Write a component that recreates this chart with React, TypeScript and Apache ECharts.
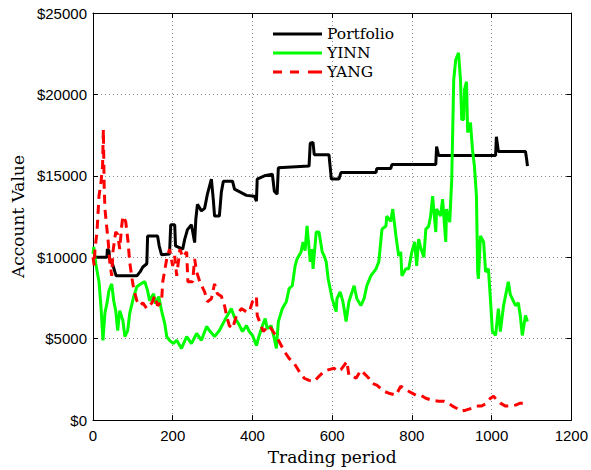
import React, { useEffect, useRef } from "react";
import * as echarts from "echarts";

const xTicks = { min: 0, max: 1200, interval: 200 };
const yTicks = { min: 0, max: 25000, interval: 5000 };
const seriesNames = ["Portfolio", "YINN", "YANG"];

const portfolio: [number, number][] = [
  [0, 10000], [35, 10000], [36, 10500], [40, 10400], [42, 9900], [50, 9500], [58, 8860],
  [110, 8860], [118, 9100], [125, 9400], [135, 9600], [137, 11300], [162, 11300],
  [166, 10700], [172, 10150], [192, 10200], [195, 12000], [205, 12000], [207, 10700],
  [225, 10500], [230, 11100], [237, 11700], [247, 12000], [255, 10900], [258, 12350],
  [262, 13250], [272, 12850], [280, 13000], [287, 13870], [297, 14800], [302, 13500],
  [305, 12530], [317, 12530], [322, 14000], [327, 14670], [350, 14670], [355, 14180],
  [385, 13800], [405, 13750], [410, 13450], [412, 14800], [430, 15000], [450, 15100],
  [455, 14050], [462, 13870], [465, 15500], [542, 15600], [545, 17000], [552, 17050],
  [555, 16300], [592, 16300], [598, 14800], [617, 14800], [622, 15200], [710, 15200],
  [712, 15450], [747, 15450], [750, 15700], [860, 15700], [862, 16800], [867, 16250],
  [1010, 16250], [1012, 17400], [1017, 16500], [1085, 16500], [1088, 16000], [1090, 15600],
];

const yinn: [number, number][] = [
  [0, 10200], [2, 10630], [7, 9600], [15, 8500], [20, 6970], [25, 4900], [30, 6600],
  [35, 7150], [40, 7950], [47, 8370], [52, 7330], [57, 6720], [62, 5500], [67, 6720],
  [75, 6110], [80, 5130], [87, 5500], [92, 6540], [102, 7580], [110, 8190], [120, 8370],
  [130, 8500], [137, 7950], [142, 7330], [152, 7760], [157, 7150], [165, 7580],
  [172, 6720], [180, 5930], [185, 5130], [192, 4900], [202, 4700], [210, 4900],
  [222, 4400], [235, 5130], [247, 4700], [260, 5320], [272, 4900], [285, 5750],
  [292, 5500], [305, 5130], [317, 5500], [330, 6110], [340, 6540], [347, 6850],
  [355, 6300], [365, 5930], [375, 5440], [385, 5800], [392, 5440], [400, 5200],
  [410, 4580], [417, 5200], [425, 5800], [432, 6230], [437, 5620], [447, 5800],
  [455, 5000], [460, 4400], [465, 6050], [475, 6850], [485, 7270], [492, 8070],
  [500, 8250], [507, 9470], [512, 9900], [522, 10330], [527, 10940], [532, 10400],
  [537, 11920], [545, 9720], [550, 10500], [552, 9290], [560, 11550], [567, 11550],
  [575, 10330], [580, 10080], [585, 9720], [590, 8680], [595, 8070], [600, 7460],
  [610, 6660], [612, 7460], [620, 7880], [627, 7270], [635, 6050], [642, 7270],
  [655, 8250], [662, 7460], [672, 7030], [680, 7460], [687, 8250], [697, 8860],
  [710, 9290], [717, 9720], [725, 11730], [735, 11920], [737, 12530], [747, 12200],
  [752, 12960], [760, 11310], [767, 10080], [772, 10330], [775, 8860], [785, 9300],
  [792, 9300], [800, 10330], [807, 10940], [812, 9470], [817, 11120], [822, 10600],
  [830, 10000], [835, 11730], [842, 11900], [847, 12530], [852, 13750], [860, 11550],
  [862, 12960], [872, 12530], [877, 13570], [885, 10940], [887, 12960], [895, 12160],
  [900, 14790], [905, 20900], [910, 22130], [917, 22550], [922, 20900], [925, 18460],
  [930, 18460], [932, 20300], [937, 20780], [940, 17660], [947, 18270], [952, 16620],
  [957, 15580], [962, 13750], [965, 9100], [967, 8680], [972, 11310], [980, 10940],
  [985, 9100], [992, 9290], [997, 7460], [1002, 5440], [1010, 5200], [1017, 6850],
  [1022, 5440], [1030, 7030], [1042, 8500], [1047, 7700], [1060, 7030], [1067, 7200],
  [1072, 6420], [1077, 5200], [1085, 6420], [1090, 6050],
];

const yang: [number, number][] = [
  [0, 10000], [3, 9500], [5, 10500], [10, 11550], [15, 13750], [20, 14600], [24, 15600],
  [26, 17850], [28, 14360], [30, 12960], [35, 11730], [38, 11000], [42, 9720],
  [47, 8860], [50, 10330], [57, 11550], [62, 11400], [67, 10500], [72, 11920],
  [75, 12530], [82, 12200], [88, 10940], [92, 9720], [98, 8680], [102, 8070],
  [110, 7330], [118, 7030], [125, 7200], [135, 6850], [148, 7200], [155, 7640],
  [162, 7030], [172, 7270], [175, 8500], [185, 9900], [192, 10500], [200, 9470],
  [205, 10080], [210, 8860], [218, 10500], [225, 10000], [235, 10330], [238, 8500],
  [250, 8500], [255, 9900], [260, 9100], [268, 8500], [280, 7880], [287, 7270],
  [297, 7450], [305, 8370], [312, 7760], [322, 7600], [330, 7030], [335, 6420],
  [342, 5800], [350, 5620], [360, 6420], [372, 6850], [385, 6650], [392, 6650],
  [400, 7270], [410, 7580], [412, 6420], [422, 5800], [427, 5440], [442, 5800],
  [455, 5320], [467, 4830], [480, 4220], [492, 3790], [505, 3480], [517, 3000],
  [530, 2570], [542, 2440], [555, 2380], [567, 2690], [580, 3000], [592, 3100],
  [605, 3180], [612, 3000], [622, 3100], [630, 3360], [637, 3600], [642, 2750],
  [650, 2750], [660, 2570], [672, 3060], [685, 2750], [692, 2570], [700, 2260],
  [712, 2150], [730, 1770], [742, 1650], [760, 1530], [772, 2080], [780, 1950],
  [792, 1770], [810, 1530], [822, 1530], [835, 1340], [850, 1220], [867, 1160],
  [880, 1160], [892, 1040], [902, 860], [912, 730], [922, 550], [935, 610], [950, 730],
  [962, 860], [975, 860], [987, 1040], [997, 1340], [1005, 1470], [1012, 1250],
  [1022, 1040], [1035, 860], [1047, 860], [1060, 920], [1072, 1040], [1085, 1040],
  [1090, 1040],
];

const SERIF = "DejaVu Serif";
const SANS = "Liberation Sans";
const DASH_ICON = "path://M0,0H9V3H0Z M17,0H26V3H17Z M35,0H49V3H35Z";

export default function App() {
  const ref = useRef<HTMLDivElement>(null);
  useEffect(() => {
    if (!ref.current) return;
    const chart = echarts.init(ref.current, undefined, { renderer: "svg" });
    const hiddenAxisCommon = {
      axisLine: { show: true, onZero: false, lineStyle: { color: "#000", width: 1 } },
      axisTick: { show: true, inside: true, length: 5, lineStyle: { color: "#000" } },
      axisLabel: { show: false },
      splitLine: { show: false },
    };
    chart.setOption({
      animation: false,
      backgroundColor: "#fff",
      grid: { left: 93, top: 13, width: 479, height: 410, containLabel: false },
      legend: {
        data: [
          { name: seriesNames[0], icon: "rect" },
          { name: seriesNames[1], icon: "rect" },
          { name: seriesNames[2], icon: DASH_ICON },
        ],
        orient: "vertical",
        left: 273,
        top: 26,
        padding: 0,
        itemWidth: 49,
        itemHeight: 3,
        itemGap: 3,
        textStyle: { fontFamily: SERIF, fontSize: 15.5, lineHeight: 16, color: "#000" },
      },
      xAxis: [
        {
          type: "value",
          min: xTicks.min,
          max: xTicks.max,
          interval: xTicks.interval,
          name: "Trading period",
          nameLocation: "middle",
          nameGap: 25,
          nameTextStyle: { fontFamily: SERIF, fontSize: 17, color: "#000" },
          axisLine: { show: true, onZero: false, lineStyle: { color: "#000", width: 1 } },
          axisTick: { show: true, inside: true, length: 5, lineStyle: { color: "#000" } },
          axisLabel: {
            fontFamily: SANS,
            fontSize: 15,
            color: "#000",
            margin: 8,
            formatter: (v: number) => String(v),
          },
          splitLine: { show: true, lineStyle: { color: "#888", width: 1, type: [1, 3] } },
        },
        {
          type: "value",
          position: "top",
          min: xTicks.min,
          max: xTicks.max,
          interval: xTicks.interval,
          ...hiddenAxisCommon,
        },
      ],
      yAxis: [
        {
          type: "value",
          min: yTicks.min,
          max: yTicks.max,
          interval: yTicks.interval,
          name: "Account Value",
          nameLocation: "middle",
          nameGap: 66,
          nameTextStyle: { fontFamily: SERIF, fontSize: 17, color: "#000" },
          axisLine: { show: true, onZero: false, lineStyle: { color: "#000", width: 1 } },
          axisTick: { show: true, inside: true, length: 5, lineStyle: { color: "#000" } },
          axisLabel: {
            fontFamily: SANS,
            fontSize: 15,
            color: "#000",
            margin: 6,
            formatter: (v: number) => "$" + v,
          },
          splitLine: { show: true, lineStyle: { color: "#888", width: 1, type: [1, 3] } },
        },
        {
          type: "value",
          position: "right",
          min: yTicks.min,
          max: yTicks.max,
          interval: yTicks.interval,
          ...hiddenAxisCommon,
        },
      ],
      series: [
        {
          name: seriesNames[0],
          type: "line",
          data: portfolio,
          symbol: "none",
          showSymbol: false,
          lineStyle: { color: "#000", width: 3 },
          itemStyle: { color: "#000" },
        },
        {
          name: seriesNames[1],
          type: "line",
          data: yinn,
          symbol: "none",
          showSymbol: false,
          lineStyle: { color: "#00ff00", width: 3 },
          itemStyle: { color: "#00ff00" },
        },
        {
          name: seriesNames[2],
          type: "line",
          data: yang,
          symbol: "none",
          showSymbol: false,
          lineStyle: { color: "#ff0000", width: 3, type: [9, 6] },
          itemStyle: { color: "#ff0000" },
        },
      ],
    });
    return () => chart.dispose();
  }, []);
  return (
    <div
      ref={ref}
      style={{ position: "fixed", left: 0, top: 0, width: 591, height: 470, background: "#fff" }}
    />
  );
}
